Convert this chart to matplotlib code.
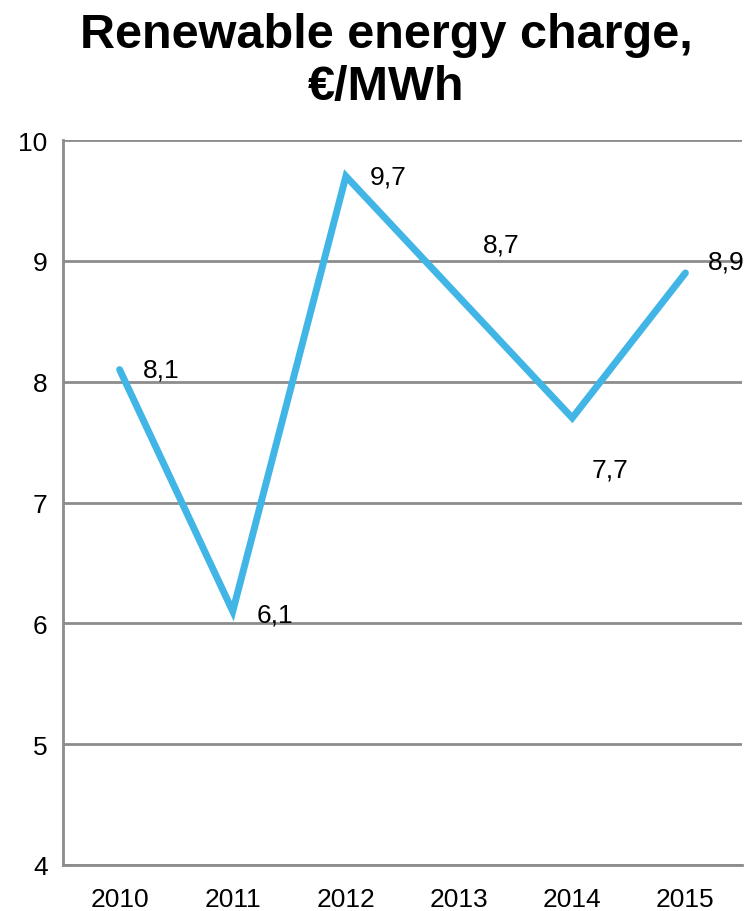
import matplotlib.pyplot as plt

years = ['2010', '2011', '2012', '2013', '2014', '2015']
charge = [8.1, 6.1, 9.7, 8.7, 7.7, 8.9]
labels = ['8,1', '6,1', '9,7', '8,7', '7,7', '8,9']
# label offsets in points (dx, dy)
offsets = [(17, 0), (17, -2), (17, 0), (17, 38), (14, -37), (16, 8)]

plt.rcParams['font.family'] = ['Liberation Sans', 'DejaVu Sans']

fig = plt.figure(figsize=(7.48, 9.12), dpi=100)
ax = fig.add_axes([63/748, 46/912, 679/748, 725/912])

x = range(len(years))
ax.plot(x, charge, color='#41B6E6', linewidth=5, solid_capstyle='round',
        solid_joinstyle='miter', zorder=3)
for xi, v, lab, off in zip(x, charge, labels, offsets):
    ax.annotate(lab, (xi, v), xytext=off, textcoords='offset points',
                ha='left', va='center', fontsize=19, color='black',
                annotation_clip=False)

ax.set_xlim(-0.5, 5.5)
ax.set_ylim(4, 10)
ax.set_xticks(list(x))
ax.set_xticklabels(years)
ax.set_yticks(range(4, 11))
ax.tick_params(axis='both', length=0, labelsize=19, colors='black')
ax.tick_params(axis='x', pad=16)
ax.tick_params(axis='y', pad=11)
ax.yaxis.grid(True, color='#8C8C8C', linewidth=2)
ax.set_axisbelow(True)
for s in ['top', 'right']:
    ax.spines[s].set_visible(False)
for s in ['left', 'bottom']:
    ax.spines[s].set_color('#8C8C8C')
    ax.spines[s].set_linewidth(2)

fig.text(0.516, 0.986, 'Renewable energy charge,\n€/MWh', ha='center', va='top',
         fontsize=35, fontweight='bold', linespacing=1.2)

fig.savefig('out.png', dpi=100)
